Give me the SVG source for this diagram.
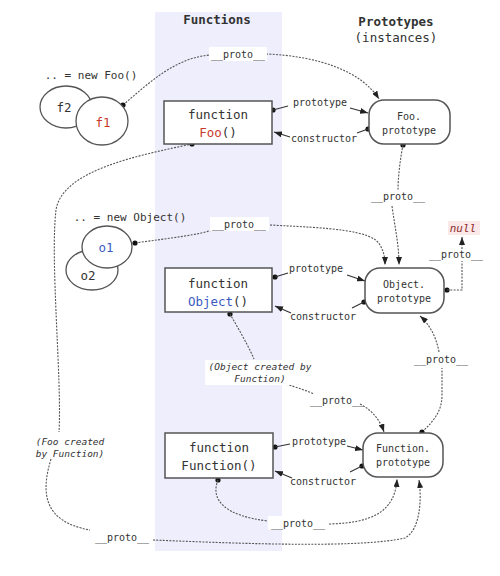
<svg xmlns="http://www.w3.org/2000/svg" width="500" height="576" viewBox="0 0 500 576">
<defs>
<style>
.t{font-family:"DejaVu Sans Mono","Liberation Mono",monospace;fill:#333;text-anchor:middle}
.h{font-size:12.5px;font-weight:bold}
.fn{font-size:12.5px}
.lb{font-size:10px}
.pt{font-size:10px}
.it{font-size:9.5px;font-style:italic}
.box{fill:#fff;stroke:#555;stroke-width:1.5}
.ell{fill:#fff;stroke:#555;stroke-width:1.3}
.dot{fill:none;stroke:#555;stroke-width:1.1;stroke-dasharray:2 1.3}
.sol{fill:none;stroke:#333;stroke-width:1.2}
.red{fill:#c8392b}
.blue{fill:#3b5bc4}
.bg{fill:#fff}
</style>
<marker id="ar" viewBox="0 0 8 6" refX="8" refY="3" markerWidth="8" markerHeight="6" markerUnits="userSpaceOnUse" orient="auto">
<path d="M0,0 L8,3 L0,6 z" fill="#222"/>
</marker>
</defs>
<rect width="500" height="576" fill="#fff"/>
<rect x="155" y="12" width="127" height="539" fill="#eeeefc"/>
<text class="t h" x="217" y="24">Functions</text>
<text class="t h" x="396" y="26">Prototypes</text>
<text class="t h" x="396" y="42" style="font-weight:normal">(instances)</text>

<g id="connectors">
<!-- f1 -> Foo.prototype -->
<path class="dot" d="M123,105 C150,82 175,58 210,55"/>
<path class="dot" d="M266,54 C320,56 362,72 379,99" marker-end="url(#ar)"/>
<circle cx="123" cy="105" r="2.6" fill="#111"/>
<!-- Foo prototype / constructor -->
<circle cx="273" cy="110" r="2.6" fill="#111"/>
<path class="sol" d="M273,110 L288,106"/>
<path class="sol" d="M350,108 L368,113" marker-end="url(#ar)"/>
<circle cx="368" cy="129" r="2.6" fill="#111"/>
<path class="sol" d="M368,129 L357,133"/>
<path class="sol" d="M290,137 L274,132" marker-end="url(#ar)"/>
<!-- Foo.prototype -> Object.prototype -->
<circle cx="403" cy="145" r="2.6" fill="#111"/>
<path class="dot" d="M403,145 C400,160 398,178 398,190"/>
<path class="dot" d="M392,206 C395,228 399,245 399,265" marker-end="url(#ar)"/>
<!-- o1 -> Object.prototype -->
<path class="dot" d="M135,243 C170,238 200,235 215,229"/>
<path class="dot" d="M270,225 C330,228 372,230 380,245 C384,252 385,258 385,265" marker-end="url(#ar)"/>
<circle cx="135" cy="243" r="2.6" fill="#111"/>
<!-- Object prototype / constructor -->
<circle cx="275" cy="277" r="2.6" fill="#111"/>
<path class="sol" d="M275,277 L288,273"/>
<path class="sol" d="M347,275 L365,281" marker-end="url(#ar)"/>
<circle cx="364" cy="302" r="2.6" fill="#111"/>
<path class="sol" d="M364,302 L352,308"/>
<path class="sol" d="M291,313 L275,306" marker-end="url(#ar)"/>
<!-- Object.prototype -> null -->
<circle cx="447" cy="290" r="2.6" fill="#111"/>
<path class="dot" d="M447,290 L462,290 L462,237" marker-end="url(#ar)"/>
<!-- Function.prototype -> Object.prototype -->
<path class="dot" d="M422,432 C435,420 442,410 442,395 L442,368"/>
<path class="dot" d="M439,352 C436,335 428,323 420,316" marker-end="url(#ar)"/>
<circle cx="422" cy="432" r="2.6" fill="#111"/>
<!-- Object -> Function.prototype -->
<circle cx="230" cy="314" r="2.6" fill="#111"/>
<path class="dot" d="M230,314 C238,328 248,345 254,359"/>
<path class="dot" d="M283,383 C298,388 308,391 314,394"/>
<path class="dot" d="M360,404 C372,410 380,420 384,432" marker-end="url(#ar)"/>
<!-- Function prototype / constructor -->
<circle cx="275" cy="447" r="2.6" fill="#111"/>
<path class="sol" d="M275,447 L290,444"/>
<path class="sol" d="M347,446 L363,450" marker-end="url(#ar)"/>
<circle cx="362" cy="466" r="2.6" fill="#111"/>
<path class="sol" d="M362,466 L350,472"/>
<path class="sol" d="M292,478 L275,471" marker-end="url(#ar)"/>
<!-- Function -> Function.prototype -->
<circle cx="218" cy="480" r="2.6" fill="#111"/>
<path class="dot" d="M218,480 C210,500 225,516 268,521"/>
<path class="dot" d="M329,524 C372,523 395,512 397,479" marker-end="url(#ar)"/>
<!-- Foo -> Function.prototype (long) -->
<circle cx="192" cy="144" r="2.6" fill="#111"/>
<path class="dot" d="M192,144 C140,155 62,170 56,210 C50,260 62,380 59,432"/>
<path class="dot" d="M51,459 C40,495 45,522 90,530"/>
<path class="dot" d="M153,540 C250,544 360,548 405,538 C420,530 422,500 419,480" marker-end="url(#ar)"/>
</g>

<g id="labels">
<rect class="bg" x="209" y="47" width="58" height="14"/>
<text class="t lb" x="238" y="58">__proto__</text>
<text class="t lb" x="320" y="106">prototype</text>
<text class="t lb" x="324" y="142">constructor</text>
<text class="t lb" x="398" y="200">__proto__</text>
<rect class="bg" x="210" y="217" width="59" height="14"/>
<text class="t lb" x="239" y="228">__proto__</text>
<text class="t lb" x="316" y="272">prototype</text>
<text class="t lb" x="323" y="320">constructor</text>
<rect x="448" y="221" width="32" height="14" fill="#fbe9e9"/>
<text class="t" x="463" y="232" style="font-size:11px;font-style:italic;fill:#8b2a2a">null</text>
<rect class="bg" x="428" y="249" width="56" height="12"/>
<text class="t lb" x="456" y="258">__proto__</text>
<rect class="bg" x="414" y="354" width="55" height="12"/>
<text class="t lb" x="441" y="363">__proto__</text>
<rect class="bg" x="205" y="360" width="110" height="25"/>
<text class="t it" x="260" y="370">(Object created by</text>
<text class="t it" x="260" y="382">Function)</text>
<text class="t lb" x="337" y="404">__proto__</text>
<text class="t lb" x="319" y="445">prototype</text>
<text class="t lb" x="323" y="485">constructor</text>
<rect class="bg" x="268" y="516" width="59" height="14"/>
<text class="t lb" x="298" y="527">__proto__</text>
<text class="t it" x="70" y="445">(Foo created</text>
<text class="t it" x="70" y="457">by Function)</text>
<text class="t lb" x="122" y="541">__proto__</text>
<text class="t" x="91" y="79" style="font-size:11px">.. = new Foo()</text>
<text class="t" x="130" y="221" style="font-size:11px">.. = new Object()</text>
</g>

<g id="f2"><ellipse class="ell" cx="66" cy="107" rx="26" ry="21"/><text class="t fn" x="64" y="112">f2</text></g>
<g id="f1"><ellipse class="ell" cx="102" cy="121" rx="26" ry="24"/><text class="t fn red" x="103" y="127">f1</text></g>
<g id="o2"><ellipse class="ell" cx="92" cy="270" rx="26" ry="20"/><text class="t fn" x="88" y="280">o2</text></g>
<g id="o1"><ellipse class="ell" cx="107" cy="247" rx="25" ry="21"/><text class="t fn blue" x="106" y="252">o1</text></g>

<g id="Foo"><rect class="box" x="164" y="101" width="108" height="43"/>
<text class="t fn" x="218" y="119">function</text>
<text class="t fn" x="218" y="137"><tspan class="red">Foo</tspan>()</text></g>
<g id="FooPrototype"><rect class="box" x="369" y="100" width="81" height="44" rx="15"/>
<text class="t pt" x="409" y="120">Foo.</text>
<text class="t pt" x="409" y="134">prototype</text></g>

<g id="Object"><rect class="box" x="165" y="268" width="107" height="44"/>
<text class="t fn" x="218" y="288">function</text>
<text class="t fn" x="218" y="306"><tspan class="blue">Object</tspan>()</text></g>
<g id="ObjectPrototype"><rect class="box" x="365" y="268" width="79" height="45" rx="15"/>
<text class="t pt" x="404" y="288">Object.</text>
<text class="t pt" x="404" y="302">prototype</text></g>

<g id="Function"><rect class="box" x="165" y="433" width="108" height="45"/>
<text class="t fn" x="219" y="452">function</text>
<text class="t fn" x="219" y="470">Function()</text></g>
<g id="FunctionPrototype"><rect class="box" x="363" y="433" width="80" height="44" rx="15"/>
<text class="t pt" x="403" y="452">Function.</text>
<text class="t pt" x="403" y="466">prototype</text></g>
</svg>
